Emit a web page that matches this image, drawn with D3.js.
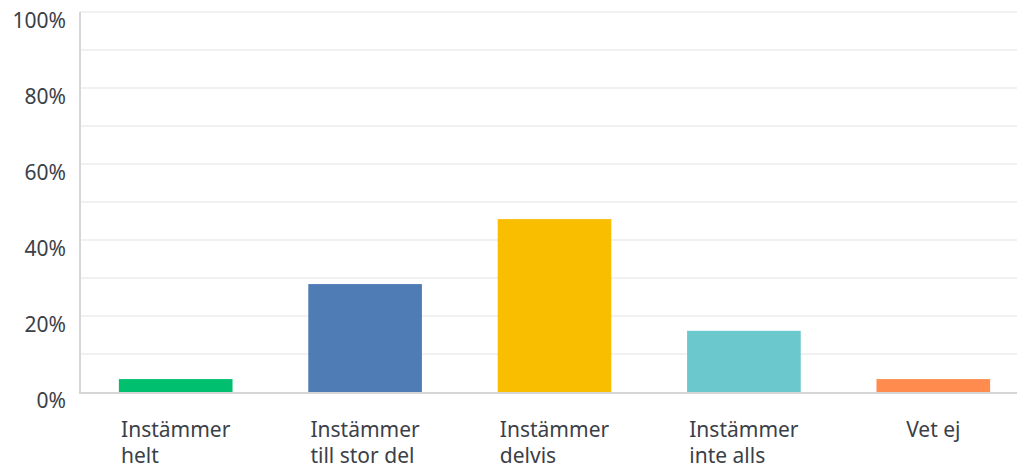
<!DOCTYPE html>
<html>
<head>
<meta charset="utf-8">
<script src="https://cdn.jsdelivr.net/npm/d3@7"></script>
<style>
  body { margin: 0; background: #fff; }
  text { font-family: "Noto Sans", Lato, sans-serif; fill: #3b4048; }
</style>
</head>
<body>
<div id="chart"></div>
<script>
// answers and their share of respondents (%)
const categories = [
  ["Instämmer", "helt"],
  ["Instämmer", "till stor del"],
  ["Instämmer", "delvis"],
  ["Instämmer", "inte alls"],
  ["Vet ej"]
];
const values = [3.4, 28.4, 45.5, 16.1, 3.4];
const colors = ["#00bf6f", "#507cb6", "#f9be00", "#6bc8cd", "#ff8b4f"];
const gridTicks = [10, 20, 30, 40, 50, 60, 70, 80, 90, 100];
const labelTicks = [0, 20, 40, 60, 80, 100];

const width = 1017, height = 468;

const svg = d3.select("#chart").append("svg")
  .attr("width", width)
  .attr("height", height);

const x = d3.scaleBand()
  .domain(d3.range(values.length))
  .range([81, 1028])
  .paddingInner(0.4)
  .paddingOuter(0.2);

const y = d3.scaleLinear().domain([0, 100]).range([392, 12]);

// gridlines
svg.selectAll(".grid")
  .data(gridTicks)
  .enter().append("line")
  .attr("class", "grid")
  .attr("x1", 80).attr("x2", width)
  .attr("y1", d => y(d)).attr("y2", d => y(d))
  .attr("stroke", "#ececec")
  .attr("stroke-width", 1.5);

// y labels
svg.selectAll(".ylab")
  .data(labelTicks)
  .enter().append("text")
  .attr("class", "ylab")
  .attr("x", 66)
  .attr("y", d => y(d) + 16)
  .attr("text-anchor", "end")
  .style("font-size", "21px")
  .text(d => d + "%");

// bars
svg.selectAll(".bar")
  .data(values)
  .enter().append("rect")
  .attr("class", "bar")
  .attr("x", (d, i) => x(i))
  .attr("width", x.bandwidth())
  .attr("y", d => y(d))
  .attr("height", d => y(0) - y(d))
  .attr("fill", (d, i) => colors[i]);

// axes lines
svg.append("line")
  .attr("x1", 80).attr("x2", 80)
  .attr("y1", 12).attr("y2", 393)
  .attr("stroke", "#d6d6d6").attr("stroke-width", 2);
svg.append("line")
  .attr("x1", 79).attr("x2", width)
  .attr("y1", 393).attr("y2", 393)
  .attr("stroke", "#d6d6d6").attr("stroke-width", 2);

// x labels: lines left aligned, block centered on the band
const xl = svg.selectAll(".xlab")
  .data(categories)
  .enter().append("text")
  .attr("class", "xlab")
  .style("font-size", "21px");

xl.each(function(lines) {
  const t = d3.select(this);
  lines.forEach((s, j) => {
    t.append("tspan").attr("y", 437 + j * 26).text(s);
  });
});

xl.each(function(lines, i) {
  const t = d3.select(this);
  let w = 0;
  t.selectAll("tspan").each(function() { w = Math.max(w, this.getComputedTextLength()); });
  const left = x(i) + x.bandwidth() / 2 - w / 2;
  t.selectAll("tspan").attr("x", left);
});
</script>
</body>
</html>
